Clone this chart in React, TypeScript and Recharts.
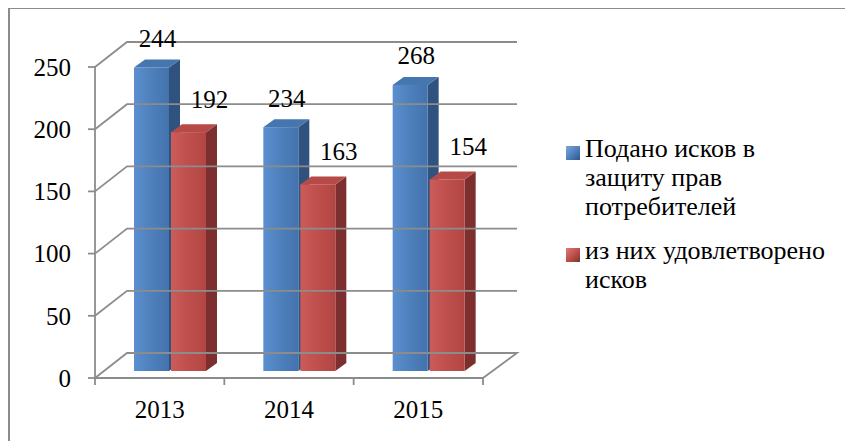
import { BarChart, Bar, XAxis, YAxis, ReferenceLine, LabelList, Legend } from "recharts";

const years = ["2013", "2014", "2015"];
// bar heights as they are drawn in the picture
const filedBars = [244, 196, 230];
const satisfiedBars = [192, 150, 154];
// data labels as printed on the picture
const filedLabels = ["244", "234", "268"];
const satisfiedLabels = ["192", "163", "154"];
const yTicks = [0, 50, 100, 150, 200, 250];
const seriesNames = ["Подано исков в защиту прав потребителей", "из них удовлетворено исков"];
// legend text is wrapped the same way as in the picture
const legendLines = [
  ["Подано исков в", "защиту прав", "потребителей"],
  ["из них удовлетворено", "исков"],
];

const data = years.map((year, i) => ({
  year,
  filed: filedBars[i],
  satisfied: satisfiedBars[i],
  filedLabel: filedLabels[i],
  satisfiedLabel: satisfiedLabels[i],
}));

const FONT = "'Liberation Serif', 'Times New Roman', serif";
const GRID = "#8c8c8c";
const W = 845;
const H = 433;
const PLOT_W = 388;
// 3d depth of the walls and of the bars
const WALL_DX = 32;
const WALL_DY = -25;
const BAR_SHIFT_X = 10;
const BAR_SHIFT_Y = -7;
const BAR_DX = 11;
const BAR_DY = -8;

const palette = {
  filed: { light: "#5b8fd0", mid: "#4f81bd", dark: "#4373ad", side: "#30527f", top: "#4676b0" },
  satisfied: { light: "#cc5c59", mid: "#c0504d", dark: "#b24542", side: "#7c2f2e", top: "#b64a47" },
};

function make3dBar(key: "filed" | "satisfied") {
  const c = palette[key];
  return (props: any) => {
    const { x, y, width, height } = props;
    if (!height) return <g />;
    const x0 = x + BAR_SHIFT_X;
    const y0 = y + BAR_SHIFT_Y;
    const x1 = x0 + width;
    const y1 = y0 + height;
    return (
      <g>
        <polygon
          points={`${x1},${y0} ${x1 + BAR_DX},${y0 + BAR_DY} ${x1 + BAR_DX},${y1 + BAR_DY} ${x1},${y1}`}
          fill={c.side}
        />
        <polygon
          points={`${x0},${y0} ${x0 + BAR_DX},${y0 + BAR_DY} ${x1 + BAR_DX},${y0 + BAR_DY} ${x1},${y0}`}
          fill={c.top}
        />
        <rect x={x0} y={y0} width={width} height={height} fill={`url(#grad-${key})`} />
      </g>
    );
  };
}

function makeLabel(dx: number, dy: number) {
  return (props: any) => {
    const { x, y, width, value } = props;
    return (
      <text
        x={x + width / 2 + dx}
        y={y + dy + 8.5}
        textAnchor="middle"
        fontSize={25}
        fontFamily={FONT}
        fill="#000"
      >
        {value}
      </text>
    );
  };
}

const wallLine = (props: any) => {
  const { x1, y1, x2 } = props;
  return (
    <polyline
      points={`${x1},${y1} ${x1 + WALL_DX},${y1 + WALL_DY} ${x2 + WALL_DX + 2},${y1 + WALL_DY}`}
      fill="none"
      stroke={GRID}
      strokeWidth={1.8}
    />
  );
};

const floorLine = (props: any) => {
  const { x1, y1, x2 } = props;
  return (
    <polyline
      points={`${x1},${y1} ${x1 + WALL_DX},${y1 + WALL_DY} ${x2 + WALL_DX + 2},${y1 + WALL_DY} ${x2},${y1}`}
      fill="none"
      stroke={GRID}
      strokeWidth={1.8}
    />
  );
};

const XTick = (props: any) => {
  const { x, y, payload, index } = props;
  const half = payload && payload.offset ? payload.offset : PLOT_W / years.length / 2;
  return (
    <g>
      <line x1={x - half} y1={y} x2={x - half} y2={y + 7} stroke={GRID} strokeWidth={1.8} />
      {index === years.length - 1 && (
        <line x1={x + half} y1={y} x2={x + half} y2={y + 7} stroke={GRID} strokeWidth={1.8} />
      )}
      <text x={x} y={y + 40} textAnchor="middle" fontSize={25} fontFamily={FONT} fill="#000">
        {payload.value}
      </text>
    </g>
  );
};

const legendMarkers = [
  "linear-gradient(135deg, #7fa6d6 0%, #4f81bd 50%, #2f5585 100%)",
  "linear-gradient(135deg, #da7c79 0%, #c0504d 50%, #823331 100%)",
];

const renderLegend = () => (
  <div style={{ width: 270, fontFamily: FONT, fontSize: 26, lineHeight: "29px", color: "#000" }}>
    {seriesNames.map((name, i) => (
      <div key={name} style={{ display: "flex", marginBottom: 15 }}>
        <span
          style={{
            flex: "none",
            width: 14,
            height: 14,
            marginTop: 12,
            marginRight: 5,
            background: legendMarkers[i],
          }}
        />
        <div style={{ width: 251, whiteSpace: "nowrap" }}>
          {legendLines[i].map((line) => (
            <div key={line}>{line}</div>
          ))}
        </div>
      </div>
    ))}
  </div>
);

export default function App() {
  return (
    <div style={{ position: "relative", width: W, height: H, overflow: "hidden" }}>
      <div
        style={{
          position: "absolute",
          left: 0,
          top: -1,
          width: 900,
          height: 500,
          border: `2px solid ${GRID}`,
          boxSizing: "border-box",
        }}
      />
      <div style={{ position: "absolute", left: 0, top: 0 }}>
        <BarChart
          width={W}
          height={H}
          data={data}
          margin={{ top: 59, right: 100, bottom: 0, left: 0 }}
          barSize={35}
          barGap={2}
          style={{ fontFamily: FONT }}
        >
          <defs>
            <linearGradient id="grad-filed" x1="0" y1="0" x2="1" y2="0">
              <stop offset="0%" stopColor={palette.filed.light} />
              <stop offset="45%" stopColor={palette.filed.mid} />
              <stop offset="100%" stopColor={palette.filed.dark} />
            </linearGradient>
            <linearGradient id="grad-satisfied" x1="0" y1="0" x2="1" y2="0">
              <stop offset="0%" stopColor={palette.satisfied.light} />
              <stop offset="45%" stopColor={palette.satisfied.mid} />
              <stop offset="100%" stopColor={palette.satisfied.dark} />
            </linearGradient>
          </defs>
          {yTicks.map((v) => (
            <ReferenceLine key={v} y={v} shape={v === 0 ? floorLine : wallLine} />
          ))}
          <XAxis
            dataKey="year"
            height={63}
            interval={0}
            tickSize={0}
            tickMargin={0}
            tickLine={false}
            axisLine={{ stroke: GRID, strokeWidth: 1.8 }}
            tick={XTick}
          />
          <YAxis
            width={87}
            domain={[0, 250]}
            ticks={yTicks}
            interval={0}
            tickSize={7}
            tickMargin={17}
            axisLine={{ stroke: GRID, strokeWidth: 1.8 }}
            tickLine={{ stroke: GRID, strokeWidth: 1.8 }}
            tick={{ fontSize: 25, fill: "#000", fontFamily: FONT }}
          />
          <Legend
            layout="vertical"
            align="right"
            verticalAlign="top"
            content={renderLegend}
            wrapperStyle={{ left: 558, top: 126, right: "auto", width: 270 }}
          />
          <Bar
            dataKey="filed"
            name={seriesNames[0]}
            fill={palette.filed.mid}
            shape={make3dBar("filed")}
            isAnimationActive={false}
          >
            <LabelList dataKey="filedLabel" content={makeLabel(16, -36)} />
          </Bar>
          <Bar
            dataKey="satisfied"
            name={seriesNames[1]}
            fill={palette.satisfied.mid}
            shape={make3dBar("satisfied")}
            isAnimationActive={false}
          >
            <LabelList dataKey="satisfiedLabel" content={makeLabel(31, -40)} />
          </Bar>
        </BarChart>
      </div>
    </div>
  );
}
